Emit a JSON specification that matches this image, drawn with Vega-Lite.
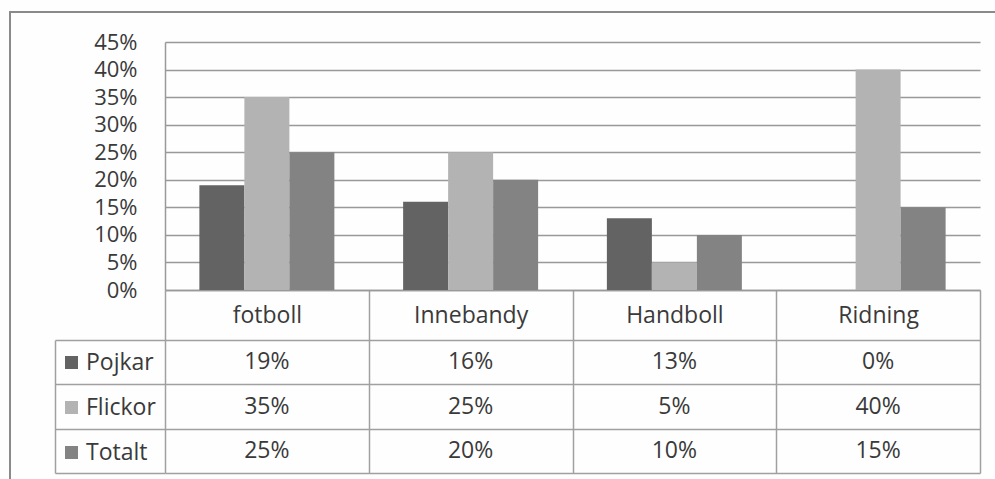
{
  "$schema": "https://vega.github.io/schema/vega-lite/v6.json",
  "width": 986,
  "height": 468,
  "autosize": "none",
  "padding": {"left": 10, "top": 12, "right": -1, "bottom": -1},
  "background": "#fefefe",
  "config": {"view": {"stroke": "#8a8a8a", "strokeWidth": 2}, "font": "Open Sans"},
  "data": {"values": [
    {"sport": "fotboll", "series": "Pojkar", "value": 0.19},
    {"sport": "fotboll", "series": "Flickor", "value": 0.35},
    {"sport": "fotboll", "series": "Totalt", "value": 0.25},
    {"sport": "Innebandy", "series": "Pojkar", "value": 0.16},
    {"sport": "Innebandy", "series": "Flickor", "value": 0.25},
    {"sport": "Innebandy", "series": "Totalt", "value": 0.20},
    {"sport": "Handboll", "series": "Pojkar", "value": 0.13},
    {"sport": "Handboll", "series": "Flickor", "value": 0.05},
    {"sport": "Handboll", "series": "Totalt", "value": 0.10},
    {"sport": "Ridning", "series": "Pojkar", "value": 0.0},
    {"sport": "Ridning", "series": "Flickor", "value": 0.40},
    {"sport": "Ridning", "series": "Totalt", "value": 0.15}
  ]},
  "encoding": {
    "x": {
      "field": "sport", "type": "nominal",
      "scale": {"type": "band", "domain": ["fotboll", "Innebandy", "Handboll", "Ridning"], "range": [155, 970], "paddingInner": 0, "paddingOuter": 0},
      "axis": {
        "title": null, "orient": "bottom", "offset": -190,
        "domain": true, "domainColor": "#999999", "domainWidth": 1.5,
        "tickBand": "extent", "tickSize": 183, "tickColor": "#a0a0a0", "tickWidth": 1.5,
        "labelFont": "Open Sans", "labelFontSize": 23, "labelColor": "#3a3a3a",
        "labelBaseline": "middle", "labelPadding": -158, "labelAngle": 0, "grid": false
      }
    }
  },
  "layer": [
    {
      "mark": {"type": "bar"},
      "encoding": {
        "xOffset": {"field": "series", "type": "nominal", "sort": ["Pojkar", "Flickor", "Totalt"], "scale": {"paddingInner": 0, "paddingOuter": 0.764}},
        "y": {
          "field": "value", "type": "quantitative",
          "scale": {"domain": [0, 0.45], "range": [278, 30], "nice": false, "zero": true},
          "axis": {
            "title": null, "orient": "left", "offset": -155,
            "values": [0, 0.05, 0.1, 0.15, 0.2, 0.25, 0.3, 0.35, 0.4, 0.45],
            "format": ".0%", "grid": true, "gridColor": "#999999", "gridWidth": 1.5,
            "ticks": false, "domain": true, "domainColor": "#999999", "domainWidth": 1.5,
            "labelPadding": 28, "labelFont": "Open Sans", "labelFontSize": 22, "labelColor": "#3a3a3a",
            "labelOverlap": false
          }
        },
        "color": {
          "field": "series", "type": "nominal",
          "scale": {"domain": ["Pojkar", "Flickor", "Totalt"], "range": ["#636363", "#b3b3b3", "#838383"]},
          "legend": {
            "orient": "none", "legendX": 50, "legendY": 339, "direction": "vertical", "title": null,
            "symbolType": "square", "symbolSize": 169, "symbolStrokeWidth": 0, "symbolOpacity": 1,
            "labelFont": "Open Sans", "labelFontSize": 23, "labelColor": "#3a3a3a", "labelOffset": 3,
            "rowPadding": 21, "padding": 0
          }
        }
      }
    },
    {
      "mark": {"type": "text", "font": "Open Sans", "fontSize": 23, "color": "#3a3a3a", "baseline": "middle"},
      "encoding": {
        "y": {
          "field": "series", "type": "nominal", "sort": ["Pojkar", "Flickor", "Totalt"],
          "scale": {"type": "band", "range": [328, 461], "paddingInner": 0, "paddingOuter": 0},
          "axis": {
            "title": null, "orient": "left", "offset": -45, "labels": false,
            "tickBand": "extent", "tickSize": -110, "tickColor": "#a0a0a0", "tickWidth": 1.5,
            "grid": true, "gridColor": "#a0a0a0", "gridWidth": 1.5,
            "domain": true, "domainColor": "#a0a0a0", "domainWidth": 1.5
          }
        },
        "text": {"field": "value", "type": "quantitative", "format": ".0%"}
      }
    }
  ],
  "resolve": {"scale": {"y": "independent"}, "axis": {"y": "independent"}}
}
